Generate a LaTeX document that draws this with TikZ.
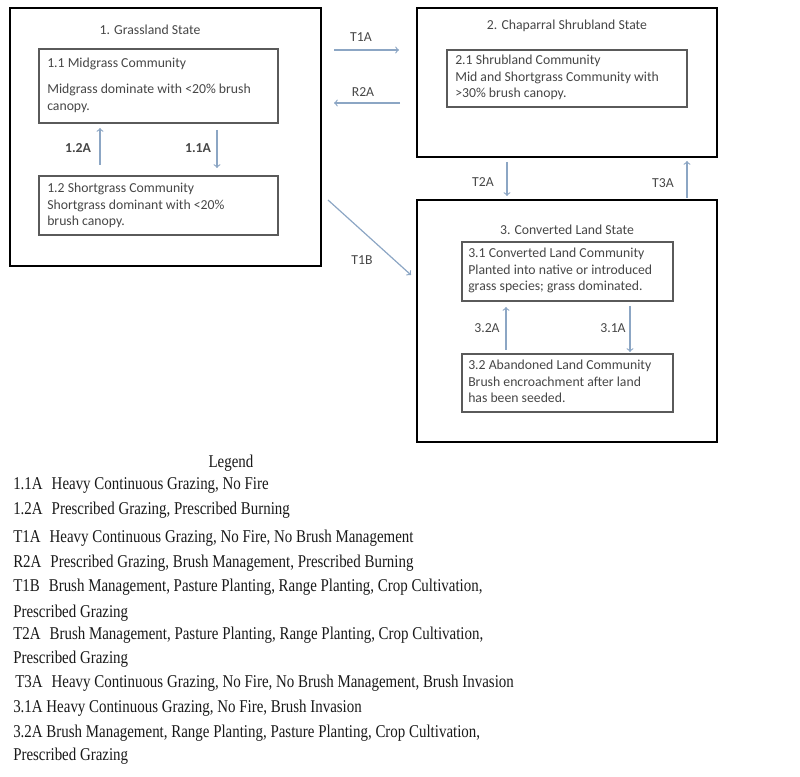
\documentclass[tikz,border=0pt]{standalone}
\usepackage{fontspec}
\setmainfont{Carlito}
\newfontfamily\legendfont[FakeStretch=0.83]{Liberation Serif}
\usepackage{tikz}
\usetikzlibrary{arrows}
\definecolor{flowblue}{RGB}{140,166,196}
\definecolor{boxgray}{RGB}{90,90,90}
\definecolor{txtgray}{RGB}{70,70,70}

\begin{document}
\begin{tikzpicture}[x=0.75pt,y=0.75pt,yscale=-1,xscale=1,
  statebox/.style={draw=black,line width=2pt},
  commbox/.style={draw=boxgray,line width=0.9pt},
  flow/.style={->,draw=flowblue,line width=0.9pt},
  txt/.style={anchor=north west,inner sep=0.75pt,align=left,text=txtgray,font=\fontsize{10.3}{12.4}\selectfont},
  lbl/.style={inner sep=0.75pt,text=txtgray,font=\fontsize{10.3}{12.4}\selectfont},
  leg/.style={anchor=west,inner sep=0.75pt,text=black!90,font=\legendfont\fontsize{13.5}{16}\selectfont}]
\useasboundingbox (0,0) rectangle (800,777);

%Shape: State boxes
\draw[statebox] (10,8) rectangle (321,266);
\draw[statebox] (417,8) rectangle (717,157);
\draw[statebox] (417,200) rectangle (717,442);
%Shape: Community boxes
\draw[commbox] (39,49) rectangle (278,123);
\draw[commbox] (39,176) rectangle (278,235);
\draw[commbox] (447,50) rectangle (687,107);
\draw[commbox] (462,242) rectangle (673,301);
\draw[commbox] (462,354) rectangle (673,412);

% Text Node
\node[lbl] (gtitle) at (150,30) {1. Grassland State};
\node[lbl] (ctitle) at (567,26) {2. Chaparral Shrubland State};
\node[lbl] (vtitle) at (567,230) {3. Converted Land State};

% Text Node
\node[txt] (c11) at (46,57) {1.1 Midgrass Community\\[7pt]Midgrass dominate with <20\% brush\\canopy.};
\node[txt] (c12) at (46,182) {1.2 Shortgrass Community\\Shortgrass dominant with <20\%\\brush canopy.};
\node[txt] (c21) at (454,54) {2.1 Shrubland Community\\Mid and Shortgrass Community with\\>30\% brush canopy.};
\node[txt] (c31) at (467,247) {3.1 Converted Land Community\\Planted into native or introduced\\grass species; grass dominated.};
\node[txt] (c32) at (467,359) {3.2 Abandoned Land Community\\Brush encroachment after land\\has been seeded.};

%Arrow ends
\coordinate (p12a) at (100,165); \coordinate (p12b) at (100,128);
\coordinate (p11a) at (217,130); \coordinate (p11b) at (217,168);
\coordinate (t1aa) at (334,50);  \coordinate (t1ab) at (399,50);
\coordinate (r2aa) at (400,103); \coordinate (r2ab) at (334,103);
\coordinate (t1ba) at (328,200); \coordinate (t1bb) at (411,275);
\coordinate (t2aa) at (507,162); \coordinate (t2ab) at (507,196);
\coordinate (t3aa) at (687,198); \coordinate (t3ab) at (687,161);
\coordinate (p32a) at (506,350); \coordinate (p32b) at (506,307);
\coordinate (p31a) at (630,306); \coordinate (p31b) at (630,352);

\draw[flow] (p12a) -- (p12b);
\draw[flow] (p11a) -- (p11b);
\draw[flow] (t1aa) -- (t1ab);
\draw[flow] (r2aa) -- (r2ab);
\draw[flow] (t1ba) -- (t1bb);
\draw[flow] (t2aa) -- (t2ab);
\draw[flow] (t3aa) -- (t3ab);
\draw[flow] (p32a) -- (p32b);
\draw[flow] (p31a) -- (p31b);

% Arrow labels
\node[lbl,font=\fontsize{10.3}{12.4}\selectfont\bfseries] (l12) at (78,148) {1.2A};
\node[lbl,font=\fontsize{10.3}{12.4}\selectfont\bfseries] (l11) at (198,148) {1.1A};
\node[lbl] (lt1a) at (361,37) {T1A};
\node[lbl] (lr2a) at (363,92) {R2A};
\node[lbl] (lt1b) at (362,260) {T1B};
\node[lbl] (lt2a) at (483,182) {T2A};
\node[lbl] (lt3a) at (663,183) {T3A};
\node[lbl] (l32) at (487,328) {3.2A};
\node[lbl] (l31) at (613,328) {3.1A};

% Legend
\node[leg,anchor=center] (legtitle) at (231,463) {Legend};
\node[leg] (g1) at (12,485) {1.1A\enspace Heavy Continuous Grazing, No Fire};
\node[leg] (g2) at (12,510) {1.2A\enspace Prescribed Grazing, Prescribed Burning};
\node[leg] (g3) at (12,538) {T1A\enspace Heavy Continuous Grazing, No Fire, No Brush Management};
\node[leg] (g4) at (12,563) {R2A\enspace Prescribed Grazing, Brush Management, Prescribed Burning};
\node[leg] (g5) at (12,587) {T1B\enspace Brush Management, Pasture Planting, Range Planting, Crop Cultivation,};
\node[leg] (g5b) at (12,613) {Prescribed Grazing};
\node[leg] (g6) at (12,635) {T2A\enspace Brush Management, Pasture Planting, Range Planting, Crop Cultivation,};
\node[leg] (g6b) at (12,659) {Prescribed Grazing};
\node[leg] (g7) at (14,683) {T3A\enspace Heavy Continuous Grazing, No Fire, No Brush Management, Brush Invasion};
\node[leg] (g8) at (12,708) {3.1A Heavy Continuous Grazing, No Fire, Brush Invasion};
\node[leg] (g9) at (12,733) {3.2A Brush Management, Range Planting, Pasture Planting, Crop Cultivation,};
\node[leg] (g9b) at (12,756) {Prescribed Grazing};

\end{tikzpicture}
\end{document}
